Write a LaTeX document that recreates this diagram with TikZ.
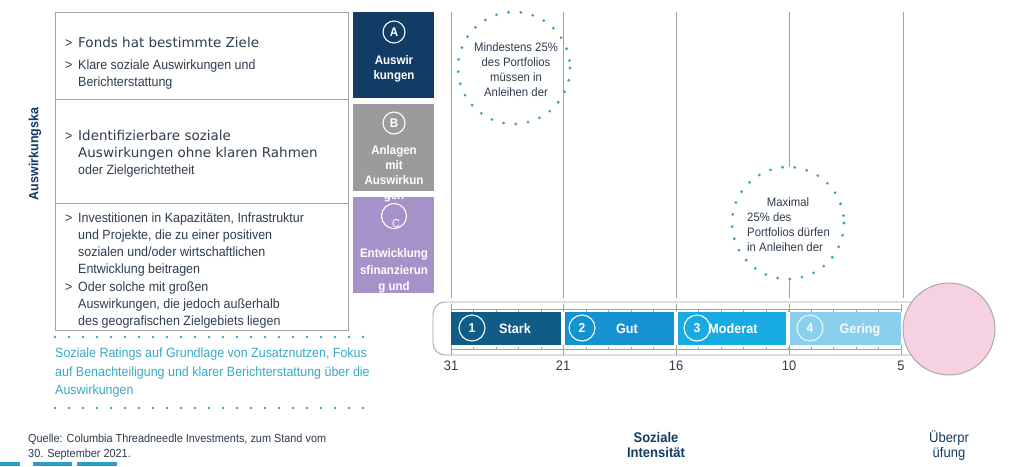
\documentclass[tikz,border=0pt]{standalone}
\usepackage{fontspec}
\setmainfont{Liberation Sans}
\newfontfamily\nar{Liberation Sans}[FakeStretch=0.93]
\newfontfamily\dvs{DejaVu Sans}
\definecolor{navy}{HTML}{123B66}
\definecolor{bodyc}{HTML}{2E3D4F}
\definecolor{boxb}{HTML}{9B9B9D}
\definecolor{boxc}{HTML}{A791C9}
\definecolor{dotc}{HTML}{3BA2BE}
\definecolor{tealtext}{HTML}{37A9C6}
\definecolor{vline}{HTML}{A3A3A3}
\definecolor{segA}{HTML}{0F5C86}
\definecolor{segB}{HTML}{1593D0}
\definecolor{segC}{HTML}{17ABE2}
\definecolor{segD}{HTML}{8BCFEF}
\definecolor{pinkb}{HTML}{F6D1E3}
\definecolor{barc}{HTML}{2A9DC9}
\tikzset{
  body/.style={font=\nar\fontsize{13.4}{15}\selectfont, text=bodyc, anchor=base west, inner sep=0pt},
  big/.style={font=\dvs\fontsize{13.5}{15}\selectfont, text=bodyc, anchor=base west, inner sep=0pt},
  boxtxt/.style={font=\nar\bfseries\fontsize{12.4}{15}\selectfont, text=white, anchor=base, inner sep=0pt},
  circtxt/.style={font=\nar\fontsize{12.2}{15}\selectfont, text=bodyc, inner sep=0pt},
  teal/.style={font=\nar\fontsize{13.4}{15}\selectfont, text=tealtext, anchor=base west, inner sep=0pt},
  src/.style={font=\nar\fontsize{11.7}{15}\selectfont, text=bodyc, anchor=base west, inner sep=0pt},
  num/.style={font=\nar\fontsize{13.8}{15}\selectfont, text=bodyc, anchor=base, inner sep=0pt},
  seglab/.style={font=\nar\bfseries\fontsize{13.6}{15}\selectfont, text=white, anchor=base, inner sep=0pt},
  captxt/.style={font=\nar\fontsize{14}{15}\selectfont, text=navy, anchor=base, inner sep=0pt},
  captbold/.style={font=\nar\bfseries\fontsize{14}{15}\selectfont, text=navy, anchor=base, inner sep=0pt},
  ring/.style={circle, draw=white, line width=1.1pt, minimum size=26pt, inner sep=0pt, font=\nar\bfseries\fontsize{13}{15}\selectfont, text=white},
  lettring/.style={circle, draw=white, line width=1.1pt, minimum size=22pt, inner sep=0pt, font=\nar\bfseries\fontsize{12.5}{15}\selectfont, text=white},
  dotcirc/.style={draw=dotc, line width=3.1pt, line cap=round, dash pattern=on 0pt off 12.3pt},
  dotline/.style={draw=dotc, line width=2.8pt, line cap=round, dash pattern=on 0pt off 14pt},
  vl/.style={draw=vline, line width=0.9pt},
  frame/.style={draw=vline, line width=0.9pt},
}
\begin{document}
\begin{tikzpicture}[x=1pt,y=-1pt]
\useasboundingbox (0,0) rectangle (1024,466);
\fill[white] (0,0) rectangle (1024,466);

% left text box
\draw[frame] (55,12) rectangle (348,330);
\draw[frame] (55,99) -- (348,99);
\draw[frame] (55,203) -- (348,203);

\node[body] (g1) at (65,47) {>};
\node[big] (r1a) at (78,47) {Fonds hat bestimmte Ziele};
\node[body] (g2) at (65,69) {>};
\node[body] (r1b) at (78,69) {Klare soziale Auswirkungen und};
\node[body] (r1c) at (78,86) {Berichterstattung};

\node[body] (g3) at (65,140) {>};
\node[big] (r2a) at (78,140) {Identifizierbare soziale};
\node[big] (r2b) at (78,157) {Auswirkungen ohne klaren Rahmen};
\node[body] (r2c) at (78,174) {oder Zielgerichtetheit};

\node[body] (g4) at (65,222) {>};
\node[body] (r3a) at (78,222) {Investitionen in Kapazitäten, Infrastruktur};
\node[body] (r3b) at (78,239) {und Projekte, die zu einer positiven};
\node[body] (r3c) at (78,256) {sozialen und/oder wirtschaftlichen};
\node[body] (r3d) at (78,273) {Entwicklung beitragen};
\node[body] (g5) at (65,291) {>};
\node[body] (r3e) at (78,291) {Oder solche mit großen};
\node[body] (r3f) at (78,308) {Auswirkungen, die jedoch außerhalb};
\node[body] (r3g) at (78,325) {des geografischen Zielgebiets liegen};

% vertical axis label
\node[font=\nar\bfseries\fontsize{13.4}{15}\selectfont, text=navy, rotate=90, inner sep=0pt] (ylab) at (35,154) {Auswirkungska};

% category boxes
\fill[navy] (353,12) rectangle (434,98);
\fill[boxb] (353,104) rectangle (434,191);
\fill[boxc] (353,197) rectangle (434,293);
\node[lettring] (cA) at (394,32) {A};
\node[boxtxt] (tA1) at (394,64) {Auswir};
\node[boxtxt] (tA2) at (394,79) {kungen};
\node[lettring] (cB) at (394,123) {B};
\node[boxtxt] (tB1) at (394,154) {Anlagen};
\node[boxtxt] (tB2) at (394,169) {mit};
\node[boxtxt] (tB3) at (394,184) {Auswirkun};
\begin{scope}
\clip (353,197) rectangle (434,293);
\node[boxtxt] (tB4) at (394,199) {gen};
\end{scope}
\node[circle, draw=white, line width=1.1pt, minimum size=25pt, inner sep=0pt] (cC) at (394,216) {};
\node[font=\nar\fontsize{11.5}{13}\selectfont, text=white, inner sep=0pt] (lC) at (396,224) {C};
\node[boxtxt] (tC1) at (394,257) {Entwicklung};
\node[boxtxt] (tC2) at (394,274) {sfinanzierun};
\node[boxtxt] (tC3) at (394,290) {g und};

% vertical scale lines
\draw[vl] (451,12) -- (451,298);
\draw[vl] (563,12) -- (563,298);
\draw[vl] (676,12) -- (676,298);
\draw[vl] (789,12) -- (789,167);
\draw[vl] (789,279) -- (789,298);
\draw[vl] (903,12) -- (903,298);

% dotted circles
\draw[dotcirc] (514,68) circle (56);
\node[circtxt] (m1) at (516,47) {Mindestens 25\%};
\node[circtxt] (m2) at (516,62) {des Portfolios};
\node[circtxt] (m3) at (516,77) {müssen in};
\node[circtxt] (m4) at (516,92) {Anleihen der};

\draw[dotcirc] (788,223) circle (56);
\node[circtxt] (x1) at (788,202) {Maximal};
\node[circtxt, anchor=west] (x2) at (747,217) {25\% des};
\node[circtxt, anchor=west] (x3) at (747,232) {Portfolios dürfen};
\node[circtxt, anchor=west] (x4) at (747,247) {in Anleihen der};

% thermometer tube
\draw[frame, rounded corners=12pt] (914,302) -- (433,302) -- (433,355) -- (914,355);
\fill[segA] (451,312) rectangle (561,345);
\fill[segB] (565,312) rectangle (674,345);
\fill[segC] (678,312) rectangle (786,345);
\fill[segD] (790,312) rectangle (901,345);
% tick lines
\draw[frame] (451,309) -- (901,309);
\draw[frame] (451,349) -- (901,349);
\foreach \i in {0,...,20} {
  \draw[frame] ({451+22.5*\i},309) -- ({451+22.5*\i},311.5);
  \draw[frame] ({451+22.5*\i},349) -- ({451+22.5*\i},346.5);
}
\foreach \xx in {451,563,676,789,901} {
  \draw[frame] (\xx,304) -- (\xx,312);
  \draw[frame] (\xx,345) -- (\xx,355);
}
\draw[draw=vline, fill=pinkb, line width=0.9pt] (949,329) circle (46);

\node[ring] (n1) at (472,328) {1};
\node[seglab] (s1) at (515,333) {Stark};
\node[ring] (n2) at (582,328) {2};
\node[seglab] (s2) at (627,333) {Gut};
\node[ring] (n3) at (697,328) {3};
\node[seglab] (s3) at (733,333) {Moderat};
\node[ring, draw=white!80!segD] (n4) at (810,328) {4};
\node[seglab, text=white!92!segD] (s4) at (860,333) {Gering};

% scale numbers
\node[num] (k31) at (451,370) {31};
\node[num] (k21) at (563,370) {21};
\node[num] (k16) at (676,370) {16};
\node[num] (k10) at (789,370) {10};
\node[num] (k5) at (901,370) {5};

% teal note
\draw[dotline] (55,337) -- (367,337);
\node[teal] (n1a) at (55,357) {Soziale Ratings auf Grundlage von Zusatznutzen, Fokus};
\node[teal] (n1b) at (55,376) {auf Benachteiligung und klarer Berichterstattung über die};
\node[teal] (n1c) at (55,394) {Auswirkungen};
\draw[dotline] (55,408) -- (367,408);

% source
\node[src] (q1) at (28,442) {Quelle: Columbia Threadneedle Investments, zum Stand vom};
\node[src] (q2) at (28,457) {30. September 2021.};

% axis captions
\node[captbold] (sz1) at (656,442) {Soziale};
\node[captbold] (sz2) at (656,457) {Intensität};
\node[captxt] (ub1) at (949,442) {Überpr};
\node[captxt] (ub2) at (949,457) {üfung};

% bottom bars
\fill[barc] (0,462) rectangle (20,466);
\fill[barc] (33,462) rectangle (72,466);
\fill[barc] (77,462) rectangle (117,466);
\end{tikzpicture}
\end{document}
